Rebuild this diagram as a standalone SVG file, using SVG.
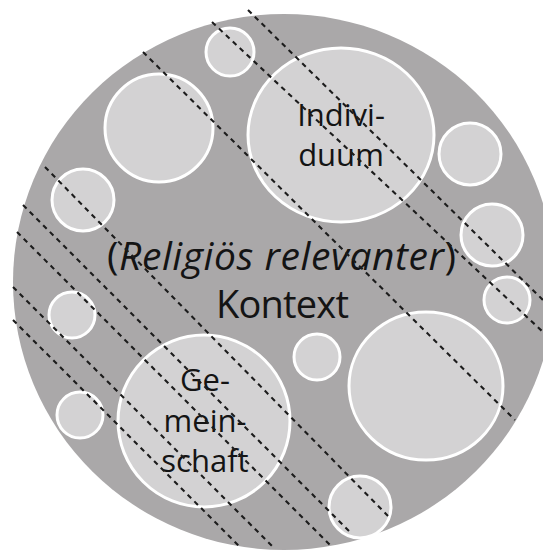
<svg xmlns="http://www.w3.org/2000/svg" width="543" height="550" viewBox="0 0 543 550">
<style>
.ctx{fill:#aaa8a9;}
.c{fill:#d3d2d3;stroke:#ffffff;stroke-width:3;}
.t{font-family:"Open Sans","Noto Sans",sans-serif;fill:#141414;}
.d{stroke:#1c1c1c;stroke-width:2.1;stroke-dasharray:5 4.5;fill:none;}
</style>
<rect width="543" height="550" fill="#ffffff"/>
<g id="kontext">
<ellipse class="ctx" cx="284" cy="282" rx="271" ry="268"/>
<text class="t" x="107" y="270" font-size="39" textLength="349" lengthAdjust="spacing">(<tspan font-style="italic">Religiös relevanter</tspan>)</text>
<text class="t" x="216" y="318" font-size="38" textLength="133" lengthAdjust="spacing">Kontext</text>
</g>
<g id="c1"><circle class="c" cx="230" cy="52" r="24"/></g>
<g id="c2"><circle class="c" cx="159" cy="128" r="54"/></g>
<g id="individuum">
<ellipse class="c" cx="341" cy="135" rx="93" ry="87"/>
<text class="t" x="341" y="126" font-size="31" text-anchor="middle">Indivi-</text>
<text class="t" x="341" y="166" font-size="31" text-anchor="middle">duum</text>
</g>
<g id="c4"><circle class="c" cx="470" cy="154" r="31"/></g>
<g id="c5"><circle class="c" cx="492" cy="235" r="31"/></g>
<g id="c6"><circle class="c" cx="507" cy="300" r="23"/></g>
<g id="c7"><circle class="c" cx="83" cy="200" r="31"/></g>
<g id="c8"><circle class="c" cx="72" cy="315" r="23"/></g>
<g id="c9"><circle class="c" cx="80" cy="415" r="23"/></g>
<g id="gemeinschaft">
<circle class="c" cx="204" cy="421" r="86"/>
<text class="t" x="205" y="391" font-size="31" text-anchor="middle">Ge-</text>
<text class="t" x="205" y="432" font-size="31" text-anchor="middle">mein-</text>
<text class="t" x="205" y="472" font-size="31" text-anchor="middle">schaft</text>
</g>
<g id="c11"><circle class="c" cx="317" cy="357" r="23"/></g>
<g id="c12"><ellipse class="c" cx="426" cy="386" rx="77" ry="74"/></g>
<g id="c13"><circle class="c" cx="360" cy="507" r="31"/></g>
<g id="connectors">
<line class="d" x1="248" y1="10" x2="543" y2="300"/>
<line class="d" x1="212" y1="22" x2="543" y2="332"/>
<line class="d" x1="143" y1="52" x2="515" y2="420"/>
<line class="d" x1="45" y1="167" x2="388" y2="516"/>
<line class="d" x1="23" y1="205" x2="350" y2="532"/>
<line class="d" x1="17" y1="232" x2="330" y2="545"/>
<line class="d" x1="13" y1="287" x2="274" y2="548"/>
<line class="d" x1="13" y1="320" x2="240" y2="547"/>
</g>
</svg>
